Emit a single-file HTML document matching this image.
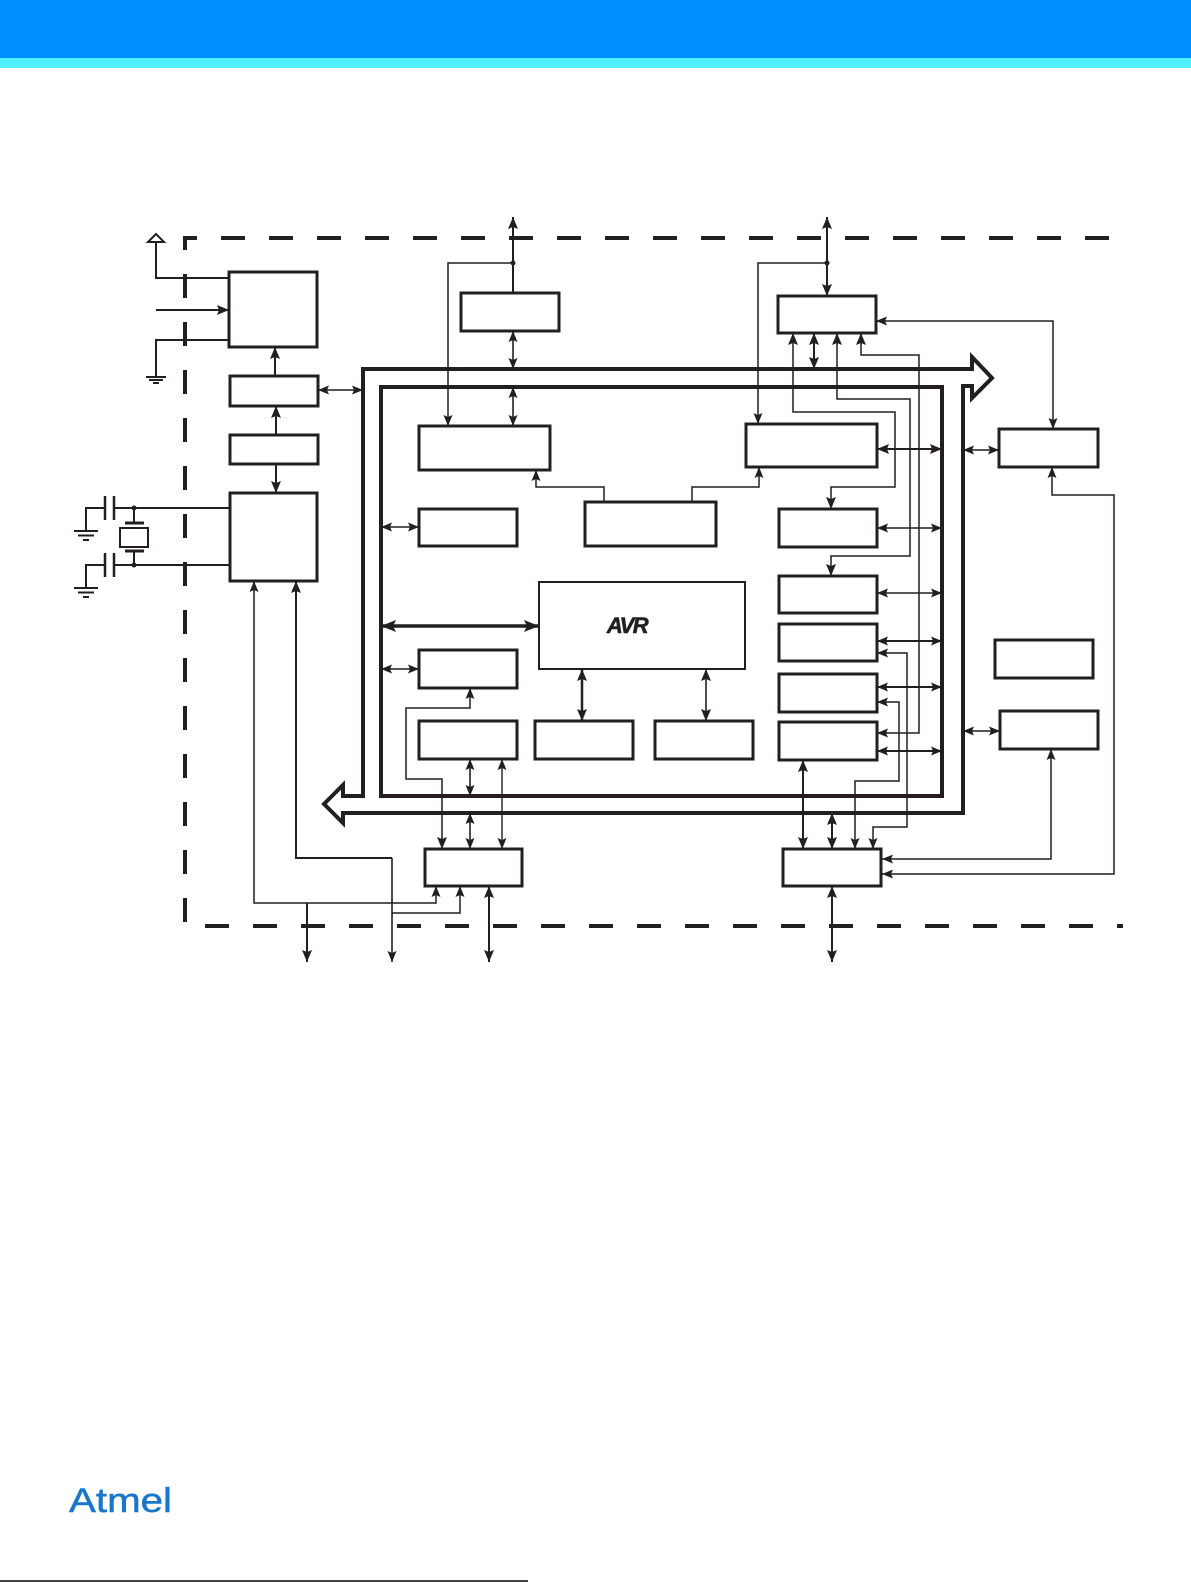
<!DOCTYPE html>
<html>
<head>
<meta charset="utf-8">
<style>
html,body{margin:0;padding:0;background:#fff;}
body{width:1191px;height:1583px;overflow:hidden;}
svg{display:block;}
</style>
</head>
<body>
<svg width="1191" height="1583" viewBox="0 0 1191 1583" xmlns="http://www.w3.org/2000/svg">
<defs>
<marker id="s" viewBox="0 0 11 9" refX="11" refY="4.5" markerWidth="11" markerHeight="9" markerUnits="userSpaceOnUse" orient="auto-start-reverse"><path d="M0,0 L11,4.5 L0,9 L2,4.5 z" fill="#231f20"/></marker>
<marker id="m" viewBox="0 0 12 10" refX="12" refY="5" markerWidth="12" markerHeight="10" markerUnits="userSpaceOnUse" orient="auto-start-reverse"><path d="M0,0 L12,5 L0,10 L2,5 z" fill="#231f20"/></marker>
<marker id="l" viewBox="0 0 15 12" refX="15" refY="6" markerWidth="15" markerHeight="12" markerUnits="userSpaceOnUse" orient="auto-start-reverse"><path d="M0,0 L15,6 L0,12 L3,6 z" fill="#231f20"/></marker>
</defs>

<!-- header -->
<rect x="0" y="0" width="1191" height="58" fill="#0090ff"/>
<rect x="0" y="58" width="1191" height="10" fill="#50f0ff"/>

<g fill="none" stroke="#231f20" stroke-linecap="butt" stroke-linejoin="miter">
<!-- dashed border -->
<path d="M1109,238 L185,238 L185,926 L1123,926" stroke-width="4" stroke-dasharray="24 24"/>

<!-- bus -->
<path d="M972,369 L363,369 L363,796 L343,796 L343,785 L324,804 L343,823 L343,813 L963,813 L963,386 L972,386 L972,398 L992,378 L972,357 Z" stroke-width="4" fill="#fff"/>
<rect x="381" y="387" width="561" height="409" stroke-width="4" fill="#fff"/>

<!-- boxes -->
<g stroke-width="3" fill="#fff">
<rect x="229" y="272" width="88" height="75"/>
<rect x="230" y="376" width="88" height="30"/>
<rect x="230" y="435" width="88" height="29"/>
<rect x="230" y="493" width="87" height="88"/>
<rect x="461" y="293" width="98" height="38"/>
<rect x="419" y="426" width="131" height="44"/>
<rect x="585" y="502" width="131" height="44"/>
<rect x="746" y="424" width="131" height="43"/>
<rect x="419" y="509" width="98" height="37"/>
<rect x="778" y="296" width="98" height="37"/>
<rect x="999" y="429" width="99" height="38"/>
<rect x="779" y="509" width="98" height="38"/>
<rect x="779" y="576" width="98" height="37"/>
<rect x="779" y="624" width="98" height="37"/>
<rect x="779" y="674" width="98" height="38"/>
<rect x="779" y="722" width="98" height="38"/>
<rect x="995" y="640" width="98" height="38"/>
<rect x="1000" y="711" width="98" height="38"/>
<rect x="419" y="650" width="98" height="38"/>
<rect x="419" y="721" width="98" height="38"/>
<rect x="535" y="721" width="98" height="38"/>
<rect x="655" y="721" width="98" height="38"/>
<rect x="425" y="849" width="97" height="37"/>
<rect x="783" y="849" width="98" height="37"/>
</g>
<rect x="539" y="582" width="206" height="87" stroke-width="2" fill="#fff"/>

<!-- left power / clock section -->
<polygon points="156,234 148,242 164,242" stroke-width="2" fill="#fff"/>
<path d="M156,242 V278 H229" stroke-width="2"/>
<path d="M156,310 H229" stroke-width="2" marker-end="url(#m)"/>
<path d="M229,340 H156 V377" stroke-width="2"/>
<path d="M146,377 H166 M149,380 H163 M153,383 H159" stroke-width="2"/>
<path d="M275,376 V347" stroke-width="2" marker-end="url(#m)"/>
<path d="M318,390 H363" stroke-width="1.5" marker-start="url(#s)" marker-end="url(#s)"/>
<path d="M276,435 V406" stroke-width="2" marker-end="url(#m)"/>
<path d="M276,464 V493" stroke-width="2" marker-end="url(#m)"/>

<!-- crystal -->
<path d="M230,508 H114" stroke-width="2"/>
<path d="M114,496 V520 M105,496 V520" stroke-width="2.5"/>
<path d="M105,508 H86 V531" stroke-width="2"/>
<path d="M74,531 H98 M78,535.5 H94 M83,540 H89" stroke-width="2"/>
<path d="M134,508 V523" stroke-width="2"/>
<path d="M125,523 H144" stroke-width="3"/>
<rect x="120" y="528" width="28" height="19" stroke-width="2"/>
<path d="M125,551 H144" stroke-width="3"/>
<path d="M134,551 V565" stroke-width="2"/>
<path d="M230,565 H114" stroke-width="2"/>
<path d="M114,553 V577 M105,553 V577" stroke-width="2.5"/>
<path d="M105,565 H86 V588" stroke-width="2"/>
<path d="M74,588 H98 M78,592.5 H94 M83,597 H89" stroke-width="2"/>

<!-- D bottom routes -->
<path d="M436,886 V903 H254 V581" stroke-width="1.5" marker-start="url(#s)" marker-end="url(#s)"/>
<path d="M307,903 V962" stroke-width="2" marker-end="url(#m)"/>
<path d="M392,858 V962" stroke-width="1.6" marker-end="url(#s)"/>
<path d="M392,858 H296 V581" stroke-width="2" marker-end="url(#m)"/>
<path d="M392,913 H460 V886" stroke-width="1.5" marker-end="url(#s)"/>

<!-- top middle -->
<path d="M513,293 V217" stroke-width="2" marker-end="url(#m)"/>
<path d="M513,263 H448 V426" stroke-width="1.5" marker-end="url(#s)"/>
<path d="M513,331 V369" stroke-width="1.6" marker-start="url(#s)" marker-end="url(#s)"/>
<path d="M513,387 V426" stroke-width="1.6" marker-start="url(#s)" marker-end="url(#s)"/>
<path d="M604,502 V487 H536 V470" stroke-width="1.5" marker-end="url(#s)"/>
<path d="M692,502 V487 H759 V467" stroke-width="1.5" marker-end="url(#s)"/>
<path d="M381,527 H419" stroke-width="1.6" marker-start="url(#s)" marker-end="url(#s)"/>

<!-- top right -->
<path d="M827,263 V217" stroke-width="2" marker-end="url(#m)"/>
<path d="M827,263 V296" stroke-width="2" marker-end="url(#m)"/>
<path d="M827,263 H758 V424" stroke-width="1.5" marker-end="url(#s)"/>
<path d="M876,321 H1053 V429" stroke-width="1.5" marker-start="url(#s)" marker-end="url(#s)"/>
<path d="M814,333 V369" stroke-width="2" marker-start="url(#m)" marker-end="url(#m)"/>
<path d="M793,333 V412 H895 V487 H831 V509" stroke-width="1.5" marker-start="url(#m)" marker-end="url(#m)"/>
<path d="M837,333 V399 H910 V556 H831 V576" stroke-width="1.5" marker-start="url(#m)" marker-end="url(#m)"/>
<path d="M861,333 V355 H919 V733 H877" stroke-width="1.5" marker-start="url(#m)" marker-end="url(#s)"/>
<path d="M877,449 H942" stroke-width="2" marker-start="url(#m)" marker-end="url(#m)"/>
<path d="M963,450 H999" stroke-width="1.6" marker-start="url(#s)" marker-end="url(#s)"/>
<path d="M877,528 H942" stroke-width="1.6" marker-start="url(#s)" marker-end="url(#s)"/>
<path d="M877,593 H942" stroke-width="1.6" marker-start="url(#s)" marker-end="url(#s)"/>
<path d="M877,641 H942" stroke-width="1.9" marker-start="url(#s)" marker-end="url(#s)"/>
<path d="M877,687 H942" stroke-width="1.9" marker-start="url(#s)" marker-end="url(#s)"/>
<path d="M877,751 H942" stroke-width="1.9" marker-start="url(#s)" marker-end="url(#s)"/>
<path d="M877,653 H907 V827 H873 V849" stroke-width="1.5" marker-start="url(#s)" marker-end="url(#s)"/>
<path d="M877,702 H899 V781 H855 V849" stroke-width="1.5" marker-start="url(#s)" marker-end="url(#s)"/>
<path d="M803,760 V849" stroke-width="2" marker-start="url(#m)" marker-end="url(#m)"/>
<path d="M832,813 V849" stroke-width="2" marker-start="url(#m)" marker-end="url(#m)"/>
<path d="M832,886 V962" stroke-width="2" marker-start="url(#m)" marker-end="url(#m)"/>
<path d="M1052,467 V495 H1114 V874 H882" stroke-width="1.5" marker-start="url(#s)" marker-end="url(#s)"/>
<path d="M1051,749 V859 H882" stroke-width="1.5" marker-start="url(#s)" marker-end="url(#s)"/>
<path d="M963,731 H1000" stroke-width="1.6" marker-start="url(#s)" marker-end="url(#s)"/>

<!-- center -->
<path d="M381,626 H539" stroke-width="3.5" marker-start="url(#l)" marker-end="url(#l)"/>
<path d="M381,669 H419" stroke-width="1.6" marker-start="url(#s)" marker-end="url(#s)"/>
<path d="M470,688 V708 H406 V779 H442 V849" stroke-width="1.5" marker-start="url(#s)" marker-end="url(#m)"/>
<path d="M582,669 V721" stroke-width="2.5" marker-start="url(#m)" marker-end="url(#m)"/>
<path d="M706,669 V721" stroke-width="1.6" marker-start="url(#m)" marker-end="url(#m)"/>
<path d="M470,759 V796" stroke-width="1.6" marker-start="url(#s)" marker-end="url(#s)"/>
<path d="M470,813 V849" stroke-width="1.6" marker-start="url(#s)" marker-end="url(#s)"/>
<path d="M502,759 V849" stroke-width="1.4" marker-start="url(#s)" marker-end="url(#s)"/>
<path d="M489,886 V962" stroke-width="2" marker-start="url(#m)" marker-end="url(#m)"/>

<!-- footer line -->
<path d="M0,1581 H528" stroke-width="1.5" stroke="#000"/>
</g>

<!-- junction dots -->
<g fill="#231f20">
<circle cx="513" cy="263" r="2.5"/>
<circle cx="827" cy="263" r="2.5"/>
<circle cx="134" cy="508" r="2.5"/>
<circle cx="134" cy="565" r="2.5"/>
</g>

<!-- AVR logo -->
<text x="627" y="633" text-anchor="middle" font-family="'Liberation Sans', sans-serif" font-weight="900" font-style="italic" font-size="22" letter-spacing="-1.5" fill="#231f20" stroke="#231f20" stroke-width="0.6">AVR</text>

<!-- Atmel logo -->
<text x="69" y="1512" font-family="'Liberation Sans', sans-serif" font-size="34" textLength="103" lengthAdjust="spacingAndGlyphs" fill="#1a76cc" stroke="#1a76cc" stroke-width="0.5">Atmel</text>
</svg>
</body>
</html>
